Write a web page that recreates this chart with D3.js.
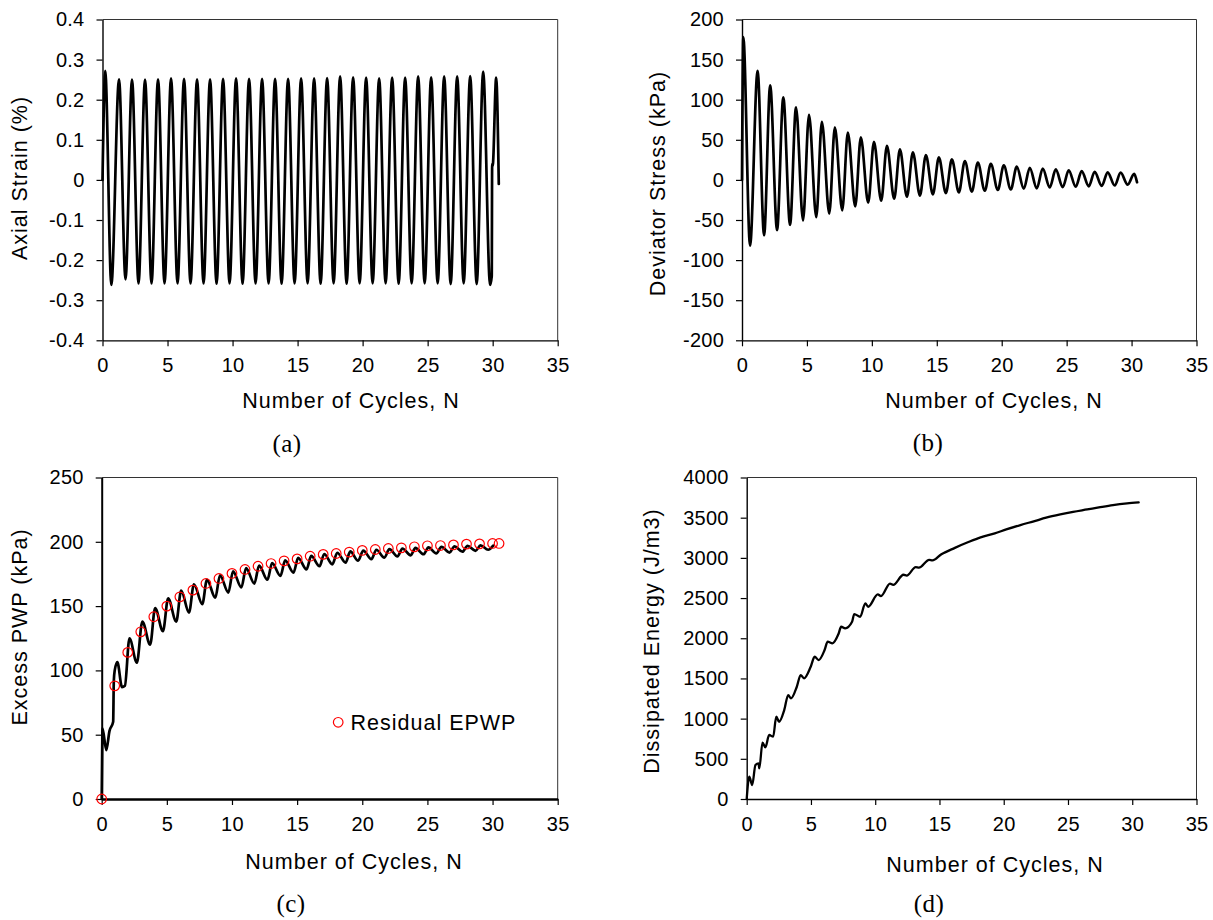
<!DOCTYPE html>
<html><head><meta charset="utf-8">
<script src="https://cdn.jsdelivr.net/npm/d3@7"></script>
<style>
body{margin:0;background:#fff}
svg{display:block}
</style></head><body>
<svg id="chart" width="1213" height="920"></svg>
<script>
// ---------- DATA ----------
const xTicks = [0, 5, 10, 15, 20, 25, 30, 35];
const strainTicks = [-0.4, -0.3, -0.2, -0.1, 0, 0.1, 0.2, 0.3, 0.4];
const stressTicks = [-200, -150, -100, -50, 0, 50, 100, 150, 200];
const pwpTicks = [0, 50, 100, 150, 200, 250];
const energyTicks = [0, 500, 1000, 1500, 2000, 2500, 3000, 3500, 4000];

// (a) axial strain: peaks and troughs per cycle
const strainN = [
  0, 0.21, 0.68,
  1.27, 1.77, 2.27, 2.77, 3.27, 3.77, 4.27, 4.77, 5.27, 5.77,
  6.27, 6.77, 7.27, 7.77, 8.27, 8.77, 9.27, 9.77, 10.27, 10.77,
  11.27, 11.77, 12.27, 12.77, 13.27, 13.77, 14.27, 14.77, 15.27, 15.77,
  16.27, 16.77, 17.27, 17.77, 18.27, 18.77, 19.27, 19.77, 20.27, 20.77,
  21.27, 21.77, 22.27, 22.77, 23.27, 23.77, 24.27, 24.77, 25.27, 25.77,
  26.27, 26.77, 27.27, 27.77, 28.27, 28.77,
  29.27, 29.8, 29.93, 29.96, 30.0, 30.27, 30.47
];
const strainVal = [
  0, 0.272, -0.262,
  0.251, -0.248, 0.250, -0.258, 0.250, -0.258, 0.251, -0.258, 0.253, -0.258,
  0.252, -0.258, 0.251, -0.258, 0.251, -0.259, 0.252, -0.258, 0.253, -0.259,
  0.252, -0.258, 0.252, -0.258, 0.252, -0.259, 0.252, -0.258, 0.253, -0.258,
  0.253, -0.259, 0.254, -0.258, 0.258, -0.259, 0.256, -0.258, 0.255, -0.258,
  0.253, -0.258, 0.255, -0.259, 0.255, -0.258, 0.258, -0.258, 0.256, -0.258,
  0.258, -0.260, 0.258, -0.258, 0.259, -0.260,
  0.270, -0.262, -0.24, 0.04, 0.035, 0.255, -0.01
];

// (b) deviator stress
const stressN = [
  0, 0.1, 0.62,
  1.2, 1.7, 2.17, 2.7, 3.18, 3.7, 4.16, 4.7, 5.16, 5.72,
  6.15, 6.72, 7.15, 7.72, 8.15, 8.72, 9.15, 9.72, 10.16, 10.72,
  11.16, 11.72, 12.16, 12.7, 13.16, 13.7, 14.16, 14.7, 15.16, 15.7,
  16.16, 16.7, 17.16, 17.7, 18.16, 18.7, 19.16, 19.7, 20.16, 20.7,
  21.16, 21.7, 22.16, 22.7, 23.16, 23.7, 24.16, 24.7, 25.16, 25.7,
  26.16, 26.7, 27.16, 27.7, 28.16, 28.7, 29.16, 29.7,
  30.2, 30.42
];
const stressVal = [
  0, 178, -82,
  136, -69, 118, -62.5, 103, -56, 90.5, -50.5, 81, -46.5,
  72.5, -42, 65.5, -38, 59, -33, 53, -28.5, 47.5, -26,
  42.5, -23.5, 38, -21, 34.5, -19.5, 31, -18, 28, -16.5,
  25.5, -15.5, 23.5, -14.5, 21.5, -13.5, 20, -12.5, 18, -12,
  16.5, -11, 15, -10.5, 14, -9.5, 13, -9, 12, -8.5,
  11, -8, 10, -7.5, 9.5, -7, 9, -6,
  7.5, -3
];

// (c) excess pore water pressure
const pwpN = [
  0, 0.04, 0.06, 0.35, 0.6, 0.88, 0.93, 1.0, 1.2, 1.56, 1.78,
  2.13, 2.7, 3.12, 3.72, 4.1, 4.7, 5.1, 5.72, 6.1, 6.7,
  7.08, 7.72, 8.08, 8.72, 9.08, 9.72, 10.08, 10.72, 11.08, 11.72,
  12.08, 12.72, 13.08, 13.72, 14.08, 14.72, 15.08, 15.72, 16.08, 16.72,
  17.08, 17.7, 18.08, 18.72, 19.08, 19.68, 20.08, 20.7, 21.08, 21.7,
  22.08, 22.7, 23.08, 23.72, 24.08, 24.7, 25.08, 25.68, 26.08, 26.69,
  27.08, 27.69, 28.08, 28.69, 29.08, 29.66, 30.05
];
const pwpVal = [
  0, 40, 55, 38, 53, 60, 92, 100, 106.5, 87, 88,
  125, 106, 138, 120, 148.5, 130.5, 156, 138, 162, 145,
  167, 151.5, 170.5, 156.5, 174, 160.5, 177, 164.5, 179.5, 167.5,
  181.5, 170.5, 183.5, 173.5, 185.5, 176, 187.5, 178.5, 189, 181,
  190.5, 182.5, 191.5, 183.8, 192.5, 185.3, 193.2, 186.5, 193.8, 187.7,
  194.3, 188.6, 194.8, 189.5, 195.3, 190.3, 195.7, 191, 196.1, 191.6,
  196.5, 192.3, 196.9, 193, 197.2, 193.8, 197
];
// residual EPWP markers
const residualN = [0, 1, 2, 3, 4, 5, 6, 7, 8, 9, 10, 11, 12, 13, 14, 15,
  16, 17, 18, 19, 20, 21, 22, 23, 24, 25, 26, 27, 28, 29, 30, 30.5];
const residualVal = [0, 88, 114, 130, 141.7, 150, 157.2, 162.4, 167.6, 171.5, 175.4,
  178.5, 181, 183.1, 185.2, 186.7, 188.8, 190.2, 190.9, 192, 193.3,
  194, 194.8, 195.3, 196.1, 196.9, 197.1, 197.6, 198.2, 198.4, 198.7, 198.7];

// (d) dissipated energy
const energyN = [
  0, 0.2, 0.43, 0.68, 0.92, 0.98, 1.23, 1.45, 1.75, 2.06,
  2.3, 2.52, 2.92, 3.23, 3.45, 3.9, 4.2, 4.46, 4.98, 5.29,
  5.6, 6.06, 6.3, 6.67, 7.14, 7.35, 7.66, 8.2, 8.37, 8.83,
  9.23, 9.45, 10.2, 10.45, 11.15, 11.4, 12.2, 12.45, 13.15, 13.4,
  14.2, 14.45, 15.15, 16.2, 17.3, 18.2, 19.3, 20.2, 21.3, 22.4,
  23.3, 24.4, 25.4, 26.5, 27.4, 28.5, 29.6, 30.5
];
const energyVal = [
  0, 277, 174, 423, 444, 382, 700, 643, 796, 775,
  1024, 961, 1107, 1293, 1252, 1397, 1542, 1501, 1646, 1770,
  1729, 1853, 1957, 1937, 2052, 2143, 2123, 2205, 2301, 2267,
  2434, 2392, 2545, 2525, 2680, 2665, 2790, 2780, 2885, 2878,
  2975, 2968, 3045, 3125, 3200, 3255, 3305, 3354, 3408, 3458,
  3500, 3541, 3573, 3603, 3628, 3657, 3678, 3690
];

// ---------- LAYOUT ----------
const SANS = '"Liberation Sans", Arial, Helvetica, sans-serif';
const SERIF = '"Liberation Serif", "Times New Roman", serif';
const xTitle = 'Number of Cycles, N';

const panels = [
  {left:102.5, right:557.7, top:19.5, bottom:340.3, yDomain:[-0.4,0.4], yTicks:strainTicks,
   fmt: d => d === 0 ? '0' : d.toFixed(1), n:strainN, v:strainVal, lw:2.7,
   yTitle:'Axial Strain (%)', yTitleX:26.5, yTitleY:178,
   xTitleX:351, xTitleY:408, label:'(a)', labelX:287, labelY:452, xAxisW:1.3, yAxisW:1.4},
  {left:742, right:1196.5, top:19.5, bottom:340.3, yDomain:[-200,200], yTicks:stressTicks,
   fmt: d => String(d), n:stressN, v:stressVal, lw:2.7,
   yTitle:'Deviator Stress (kPa)', yTitleX:664.5, yTitleY:183.5,
   xTitleX:994, xTitleY:408, label:'(b)', labelX:928, labelY:451, xAxisW:1.3, yAxisW:1.4},
  {left:101.7, right:557.7, top:477.5, bottom:799, yDomain:[0,250], yTicks:pwpTicks,
   fmt: d => String(d), n:pwpN, v:pwpVal, lw:2.7,
   yTitle:'Excess PWP (kPa)', yTitleX:26.5, yTitleY:627,
   xTitleX:354, xTitleY:869, label:'(c)', labelX:291, labelY:912, xAxisW:2.6, yAxisW:2,
   markers:true},
  {left:746.7, right:1196.5, top:477.5, bottom:799, yDomain:[0,4000], yTicks:energyTicks,
   fmt: d => String(d), n:energyN, v:energyVal, lw:2.3,
   yTitle:'Dissipated Energy (J/m3)', yTitleX:658.5, yTitleY:641,
   xTitleX:995, xTitleY:872, label:'(d)', labelX:929, labelY:912, xAxisW:1.6, yAxisW:1.4}
];

const svg = d3.select('#chart');

function drawPanel(p) {
  const x = d3.scaleLinear().domain([0, 35]).range([p.left, p.right]);
  const y = d3.scaleLinear().domain(p.yDomain).range([p.bottom, p.top]);
  const g = svg.append('g');

  // top and right frame
  g.append('line').attr('x1', p.left).attr('x2', p.right).attr('y1', p.top).attr('y2', p.top)
    .attr('stroke', '#333').attr('stroke-width', 1);
  g.append('line').attr('x1', p.right).attr('x2', p.right).attr('y1', p.top).attr('y2', p.bottom)
    .attr('stroke', '#333').attr('stroke-width', 1);

  const xa = g.append('g').attr('transform', `translate(0,${p.bottom})`)
    .call(d3.axisBottom(x).tickValues(xTicks).tickSize(6).tickSizeOuter(0).tickPadding(12)
      .tickFormat(d => String(d)));
  const ya = g.append('g').attr('transform', `translate(${p.left},0)`)
    .call(d3.axisLeft(y).tickValues(p.yTicks).tickSize(6).tickSizeOuter(0).tickPadding(12)
      .tickFormat(p.fmt));
  [xa, ya].forEach(a => {
    a.attr('font-family', SANS).attr('font-size', 20);
    a.selectAll('text').attr('fill', '#000').style('letter-spacing', '0.25px');
    a.selectAll('.tick line').attr('stroke', '#000').attr('stroke-width', 1.2);
  });
  xa.select('.domain').attr('stroke', '#000').attr('stroke-width', p.xAxisW);
  ya.select('.domain').attr('stroke', '#000').attr('stroke-width', p.yAxisW);

  // data line
  const line = d3.line()
    .x(i => x(p.n[i]))
    .y(i => y(p.v[i]))
    .curve(d3.curveMonotoneX);
  g.append('path').datum(d3.range(Math.min(p.n.length, p.v.length)))
    .attr('d', line).attr('fill', 'none').attr('stroke', '#000')
    .attr('stroke-width', p.lw).attr('stroke-linejoin', 'round').attr('stroke-linecap', 'round');

  if (p.markers) {
    g.append('g').selectAll('circle').data(d3.range(residualN.length)).join('circle')
      .attr('cx', i => x(residualN[i])).attr('cy', i => y(residualVal[i])).attr('r', 4.8)
      .attr('fill', 'none').attr('stroke', '#ff0000').attr('stroke-width', 1.2);
    // legend
    g.append('circle').attr('cx', 338.2).attr('cy', 722.3).attr('r', 4.8)
      .attr('fill', 'none').attr('stroke', '#ff0000').attr('stroke-width', 1.2);
    g.append('text').attr('x', 350.5).attr('y', 729.5).attr('font-family', SANS)
      .attr('font-size', 21.5).style('letter-spacing', '1px').attr('fill', '#000')
      .text('Residual EPWP');
  }

  // titles
  g.append('text').attr('x', p.xTitleX).attr('y', p.xTitleY).attr('text-anchor', 'middle')
    .attr('font-family', SANS).attr('font-size', 21.5).style('letter-spacing', '1px')
    .attr('fill', '#000').text(xTitle);
  g.append('text').attr('transform', `translate(${p.yTitleX},${p.yTitleY}) rotate(-90)`)
    .attr('text-anchor', 'middle').attr('font-family', SANS).attr('font-size', 21.5)
    .style('letter-spacing', '1px').attr('fill', '#000').text(p.yTitle);
  g.append('text').attr('x', p.labelX).attr('y', p.labelY).attr('text-anchor', 'middle')
    .attr('font-family', SERIF).attr('font-size', 25).style('letter-spacing', '0.5px')
    .attr('fill', '#000').text(p.label);
}

panels.forEach(drawPanel);
</script>
</body></html>
